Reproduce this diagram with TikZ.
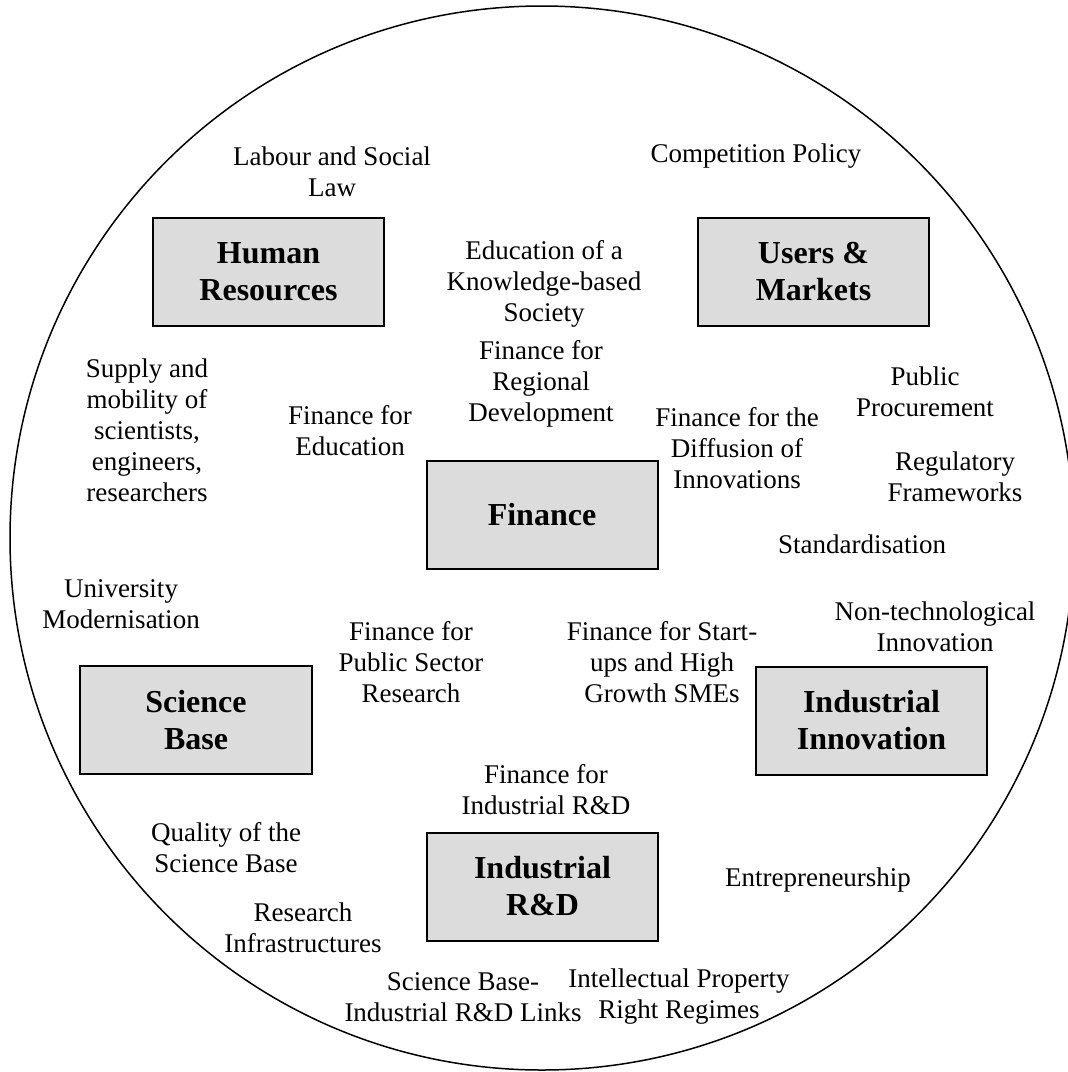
\documentclass[tikz,border=0pt]{standalone}
\usepackage{fontspec}
\setmainfont{Liberation Serif}
\definecolor{boxgray}{RGB}{220,220,220}
\tikzset{
  lbl/.style={align=center, inner sep=0pt, font=\fontsize{27bp}{31bp}\selectfont},
  keybox/.style={draw=black, line width=2bp, fill=boxgray, inner sep=0pt, align=center,
     minimum width=231bp, minimum height=108bp,
     font=\fontsize{32bp}{37bp}\selectfont\bfseries}
}
\begin{document}
\begin{tikzpicture}[x=1bp,y=-1bp]
\useasboundingbox (0,0) rectangle (1068,1072);
\begin{scope}
\clip (0,0) rectangle (1068,1072);
\draw[line width=1.5bp] (542,538) circle [radius=532];
\end{scope}
% boxes
\node[keybox] (hr) at (268.5,271.5) {Human\\Resources};
\node[keybox] (um) at (813.5,271.5) {Users \&\\Markets};
\node[keybox] (fin) at (542,515) {Finance};
\node[keybox] (sb) at (196,720) {Science\\Base};
\node[keybox] (ii) at (871.5,720.5) {Industrial\\Innovation};
\node[keybox] (ird) at (542.5,886.5) {Industrial\\R\&D};
% labels
\node[lbl] (l1) at (332,172) {Labour and Social\\Law};
\node[lbl] (l2) at (756,156) {Competition Policy};
\node[lbl] (l3) at (544,284) {Education of a\\Knowledge-based\\Society};
\node[lbl] (l4) at (147,430) {Supply and\\mobility of\\scientists,\\engineers,\\researchers};
\node[lbl] (l5) at (541,384) {Finance for\\Regional\\Development};
\node[lbl] (l6) at (350,430.5) {Finance for\\Education};
\node[lbl] (l7) at (925,392) {Public\\Procurement};
\node[lbl] (l8) at (737,448) {Finance for the\\Diffusion of\\Innovations};
\node[lbl] (l9) at (955,477) {Regulatory\\Frameworks};
\node[lbl] (l10) at (862,544) {Standardisation};
\node[lbl] (l11) at (121,604.5) {University\\Modernisation};
\node[lbl] (l12) at (935,627) {Non-technological\\Innovation};
\node[lbl] (l13) at (411,662) {Finance for\\Public Sector\\Research};
\node[lbl] (l14) at (662,662) {Finance for Start-\\ups and High\\Growth SMEs};
\node[lbl] (l15) at (546,790) {Finance for\\Industrial R\&D};
\node[lbl] (l16) at (226,848) {Quality of the\\Science Base};
\node[lbl] (l17) at (818,880) {Entrepreneurship};
\node[lbl] (l18) at (303,928) {Research\\Infrastructures};
\node[lbl] (l19) at (463,997) {Science Base-\\Industrial R\&D Links};
\node[lbl] (l20) at (679,997) {Intellectual Property\\Right Regimes};
\end{tikzpicture}
\end{document}
